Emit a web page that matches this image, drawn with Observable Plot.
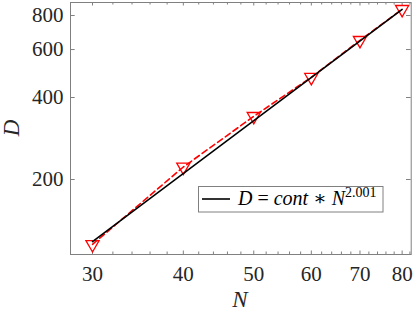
<!DOCTYPE html>
<html>
<head>
<meta charset="utf-8">
<script src="https://cdn.jsdelivr.net/npm/d3@7"></script>
<script src="https://cdn.jsdelivr.net/npm/@observablehq/plot@0.6"></script>
<style>
  html, body { margin: 0; padding: 0; background: #fff; }
  svg { display: block; }
</style>
</head>
<body>
<div id="chart"></div>
<script>
// Data
const N = [30, 40, 50, 60, 70, 80];
const D = [115.6, 222.3, 341.2, 474.6, 648.6, 843];
const fitN = [30, 80];
const fitCont = 0.1311;
const fitExp = 2.001;
const xMajor = [30, 40, 50, 60, 70, 80];
const xMinor = [32, 34, 36, 38, 42, 44, 46, 48, 52, 54, 56, 58, 62, 64, 66, 68, 72, 74, 76, 78, 82];
const yMajor = [200, 400, 600, 800];

const pts = N.map((n, i) => ({n, d: D[i]}));
const fitPts = fitN.map(n => ({n, d: fitCont * Math.pow(n, fitExp)}));

const serif = "'Liberation Serif', 'DejaVu Serif', serif";
const axisColor = "#808080";
const textColor = "#262626";

const plot = Plot.plot({
  width: 415,
  height: 313,
  marginLeft: 70,
  marginRight: 4.3,
  marginTop: 2,
  marginBottom: 59,
  style: {fontFamily: serif, background: "white", overflow: "visible"},
  x: {type: "log", domain: [27.98, 82.33], axis: null},
  y: {type: "log", domain: [106.1, 893], axis: null},
  marks: [
    // ticks (inward, mirrored)
    Plot.tickX(xMajor, {x: d => d, stroke: axisColor, insetTop: 248.5}),
    Plot.tickX(xMajor, {x: d => d, stroke: axisColor, insetBottom: 248.5}),
    Plot.tickX(xMinor, {x: d => d, stroke: axisColor, insetTop: 249.5}),
    Plot.tickX(xMinor, {x: d => d, stroke: axisColor, insetBottom: 249.5}),
    Plot.tickY(yMajor, {y: d => d, stroke: axisColor, insetRight: 336}),
    Plot.tickY(yMajor, {y: d => d, stroke: axisColor, insetLeft: 336}),
    // tick labels
    Plot.text(xMajor, {x: d => d, text: d => String(d), frameAnchor: "bottom", lineAnchor: "top", dy: 12, fontSize: 21, fill: textColor}),
    Plot.text(yMajor, {y: d => d, text: d => String(d), frameAnchor: "left", textAnchor: "end", dx: -7, fontSize: 21, fill: textColor}),
    // data
    Plot.dot(pts, {x: "n", y: "d", symbol: "triangle", rotate: 180, r: 4.9, stroke: "#ff0000", strokeWidth: 1.3, fill: "none"}),
    Plot.line(pts, {x: "n", y: "d", stroke: "#ff0000", strokeWidth: 1.6, strokeDasharray: "6,3.5"}),
    Plot.line(fitPts, {x: "n", y: "d", stroke: "black", strokeWidth: 1.6}),
    Plot.frame({stroke: axisColor, strokeWidth: 1})
  ]
});

document.getElementById("chart").appendChild(plot);

const svg = d3.select(plot);
// axis labels
svg.append("text")
  .attr("x", 240).attr("y", 306.5)
  .attr("text-anchor", "middle")
  .attr("font-family", serif).attr("font-style", "italic").attr("font-size", 23)
  .attr("fill", textColor).text("N");
svg.append("text")
  .attr("transform", "translate(19,128) rotate(-90)")
  .attr("text-anchor", "middle")
  .attr("font-family", serif).attr("font-style", "italic").attr("font-size", 23)
  .attr("fill", textColor).text("D");

// legend
const lg = svg.append("g");
lg.append("rect").attr("x", 198.5).attr("y", 186.5).attr("width", 184.5).attr("height", 25.5)
  .attr("fill", "white").attr("stroke", axisColor).attr("stroke-width", 1);
lg.append("line").attr("x1", 202).attr("x2", 230).attr("y1", 199).attr("y2", 199)
  .attr("stroke", "black").attr("stroke-width", 1.6);
const t = lg.append("text").attr("x", 238).attr("y", 204.5)
  .attr("text-anchor", "start")
  .attr("font-family", serif).attr("font-size", 20).attr("fill", "black");
t.append("tspan").attr("font-style", "italic").text("D");
t.append("tspan").text(" = ");
t.append("tspan").attr("font-style", "italic").text("cont");
t.append("tspan").text(" \u2217 ");
t.append("tspan").attr("font-style", "italic").text("N");
t.append("tspan").attr("font-size", 14).attr("dy", -8).text("2.001");
</script>
</body>
</html>
